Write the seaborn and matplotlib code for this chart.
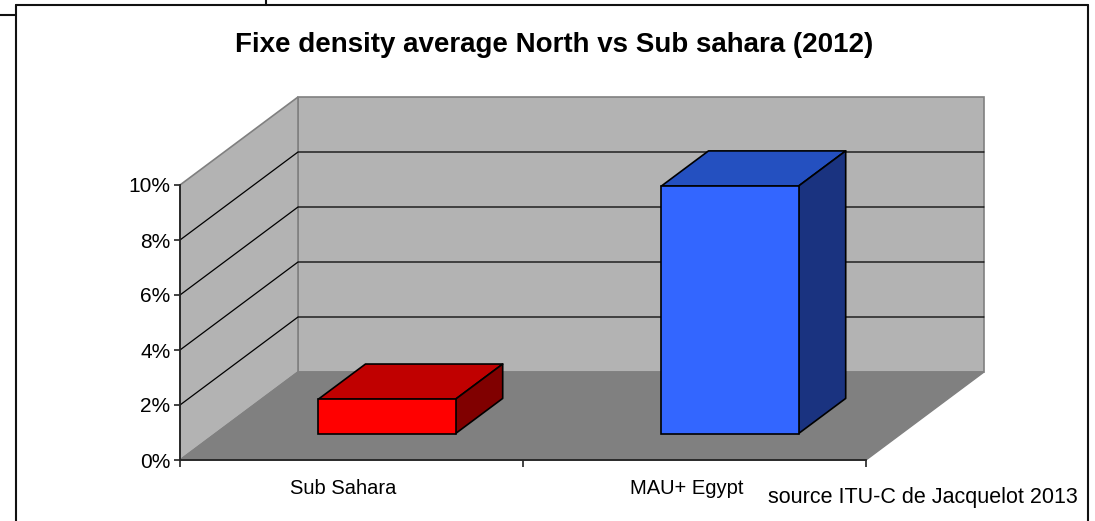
import matplotlib
matplotlib.use("Agg")
import matplotlib.pyplot as plt
import matplotlib.transforms as mtransforms
import seaborn as sns
import pandas as pd
from matplotlib.patches import Polygon
from matplotlib.lines import Line2D

categories = ["Sub Sahara", "MAU+ Egypt"]
values = [1.25, 9.0]
front_colors = ["#ff0000", "#3366ff"]
top_colors = ["#c00000", "#2450c0"]
side_colors = ["#800000", "#1a3380"]
yticks = [0, 2, 4, 6, 8, 10]
ytick_labels = ["0%", "2%", "4%", "6%", "8%", "10%"]

title = "Fixe density average North vs Sub sahara (2012)"
source = "source ITU-C de Jacquelot 2013"

sns.set_style("white")
plt.rcParams["font.family"] = ["Liberation Sans", "DejaVu Sans"]
plt.rcParams["text.color"] = "black"
plt.rcParams["xtick.color"] = "black"
plt.rcParams["ytick.color"] = "black"

W, H = 1095, 521
fig = plt.figure(figsize=(W / 100, H / 100), dpi=100)

# front plane of the 3d box (pixels)
x0_px, x1_px, y0_px, y1_px = 180, 866, 460, 185
ax = fig.add_axes([x0_px / W, 1 - y0_px / H, (x1_px - x0_px) / W, (y0_px - y1_px) / H])
ax.set_xlim(-0.5, 1.5)
ax.set_ylim(0, 10)
ax.patch.set_alpha(0)

# depth of the box in data units
DX = 118 / 343
DY = 88 / 27.5
d0, d1 = 0.3, 0.7  # bar depth range
half = 0.2

xl, xr, ymax = -0.5, 1.5, 10

wall = "#b3b3b3"
edge = "#808080"
# back wall
ax.add_patch(Polygon([(xl + DX, DY), (xr + DX, DY), (xr + DX, ymax + DY), (xl + DX, ymax + DY)],
                     facecolor=wall, edgecolor=edge, lw=1.2, clip_on=False, zorder=1))
# side wall
ax.add_patch(Polygon([(xl, 0), (xl + DX, DY), (xl + DX, ymax + DY), (xl, ymax)],
                     facecolor=wall, edgecolor=edge, lw=1.2, clip_on=False, zorder=1))
# floor
ax.add_patch(Polygon([(xl, 0), (xr, 0), (xr + DX, DY), (xl + DX, DY)],
                     facecolor="#808080", edgecolor="#808080", lw=1, clip_on=False, zorder=1))

# gridlines
for t in yticks[1:-1]:
    ax.plot([xl, xl + DX, xr + DX], [t, t + DY, t + DY], color="black", lw=0.9,
            clip_on=False, zorder=2)

# top and side faces of the bars
for i, v in enumerate(values):
    a, b = i - half, i + half
    top = [(a + d0 * DX, v + d0 * DY), (b + d0 * DX, v + d0 * DY),
           (b + d1 * DX, v + d1 * DY), (a + d1 * DX, v + d1 * DY)]
    side = [(b + d0 * DX, d0 * DY), (b + d1 * DX, d1 * DY),
            (b + d1 * DX, v + d1 * DY), (b + d0 * DX, v + d0 * DY)]
    ax.add_patch(Polygon(top, facecolor=top_colors[i], edgecolor="black", lw=1.2,
                         clip_on=False, zorder=3, joinstyle="round"))
    ax.add_patch(Polygon(side, facecolor=side_colors[i], edgecolor="black", lw=1.2,
                         clip_on=False, zorder=3, joinstyle="round"))

# axes look
for s in ["top", "right"]:
    ax.spines[s].set_visible(False)
for s in ["left", "bottom"]:
    ax.spines[s].set_color("#222222")
    ax.spines[s].set_linewidth(1.3)
    ax.spines[s].set_zorder(4)
ax.set_yticks(yticks)
ax.set_yticklabels(ytick_labels, fontsize=15)
ax.set_xticks([0, 1])
ax.set_xticklabels(categories, fontsize=14.5)
ax.set_xticks([-0.5, 0.5, 1.5], minor=True)
ax.tick_params(axis="y", direction="out", length=4, width=1.2, color="#222222", pad=3, left=True)
ax.tick_params(axis="x", which="major", length=0, pad=14)
ax.tick_params(axis="x", which="minor", direction="out", length=5, width=1.2, color="#222222", bottom=True)
shift = mtransforms.ScaledTranslation(-8 / 100, 0, fig.dpi_scale_trans)
for lab in ax.get_xticklabels():
    lab.set_transform(lab.get_transform() + shift)
ax.set_xlabel("")
ax.set_ylabel("")

# front faces of the bars: seaborn barplot on a plane shifted by d0 depth
off_x = d0 * DX / (xr - xl) * (x1_px - x0_px) / W
off_y = d0 * DY / ymax * (y0_px - y1_px) / H
pos = ax.get_position()
ax2 = fig.add_axes([pos.x0 + off_x, pos.y0 + off_y, pos.width, pos.height])
df = pd.DataFrame({"region": categories, "density": values})
sns.barplot(data=df, x="region", y="density", hue="region", palette=front_colors,
            width=2 * half, edgecolor="black", linewidth=1.2, saturation=1,
            legend=False, ax=ax2)
ax2.set_xlim(-0.5, 1.5)
ax2.set_ylim(0, 10)
ax2.axis("off")
for p in ax2.patches:
    p.set_clip_on(False)

# title and source
fig.text(554 / W, 1 - 45 / H, title, ha="center", va="center", fontsize=20, fontweight="bold")
fig.text(1078 / W, 1 - 497 / H, source, ha="right", va="center", fontsize=15.5)

# outer frame lines
lc = "#111111"
fig.add_artist(Line2D([16 / W, 1088 / W], [1 - 5 / H, 1 - 5 / H], color=lc, lw=1.5))
fig.add_artist(Line2D([16 / W, 16 / W], [1 - 5 / H, 0], color=lc, lw=1.5))
fig.add_artist(Line2D([1088 / W, 1088 / W], [1 - 5 / H, 0], color=lc, lw=1.5))
fig.add_artist(Line2D([0, 16 / W], [1 - 15 / H, 1 - 15 / H], color=lc, lw=1.5))
fig.add_artist(Line2D([266 / W, 266 / W], [1, 1 - 5 / H], color=lc, lw=1.5))

fig.savefig("out.png", dpi=100)
